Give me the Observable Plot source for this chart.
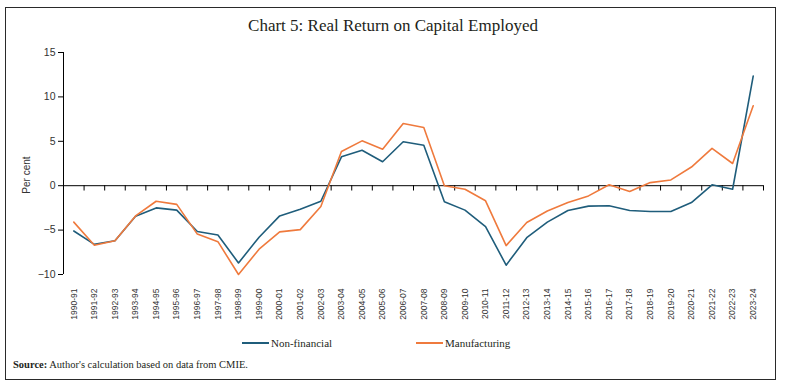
<!DOCTYPE html>
<html><head><meta charset="utf-8">
<script src="https://cdn.jsdelivr.net/npm/d3@7"></script>
<script src="https://cdn.jsdelivr.net/npm/@observablehq/plot@0.6"></script>
<style>
body{margin:0;background:#fff;}
#wrap{position:relative;width:786px;height:388px;overflow:hidden;font-family:"Liberation Serif",serif;color:#231f20;}
#frame{position:absolute;left:5px;top:7px;width:769px;height:371px;border:1.5px solid #2a2a2a;}
#title{position:absolute;left:0;width:786px;top:16px;text-align:center;font-size:17px;line-height:20px;}
#chart{position:absolute;left:0;top:0;}
#ylab{position:absolute;left:26px;top:175px;transform:translate(-50%,-50%) rotate(-90deg);font-family:"Liberation Sans",sans-serif;font-size:10px;white-space:nowrap;color:#333;}
.leg{position:absolute;top:336px;font-size:11px;line-height:14px;display:flex;align-items:center;white-space:nowrap;}
.sw{display:inline-block;width:27px;height:2px;margin-right:2px;}
#source{position:absolute;left:13px;top:358px;font-size:10.5px;line-height:14px;}
</style></head>
<body>
<div id="wrap">
  <div id="frame"></div>
  <div id="title">Chart 5: Real Return on Capital Employed</div>
  <div id="chart"></div>
  <div id="ylab">Per cent</div>
  <div id="legend"></div>
  <div id="source"><b>Source:</b> Author's calculation based on data from CMIE.</div>
</div>
<script>
const years = ["1990-91","1991-92","1992-93","1993-94","1994-95","1995-96","1996-97","1997-98","1998-99","1999-00","2000-01","2001-02","2002-03","2003-04","2004-05","2005-06","2006-07","2007-08","2008-09","2009-10","2010-11","2011-12","2012-13","2013-14","2014-15","2015-16","2016-17","2017-18","2018-19","2019-20","2020-21","2021-22","2022-23","2023-24"];
const nonFinancial = [-5.1,-6.6,-6.2,-3.45,-2.5,-2.75,-5.15,-5.55,-8.7,-5.8,-3.4,-2.65,-1.75,3.25,4.0,2.7,4.95,4.55,-1.8,-2.75,-4.6,-8.95,-5.85,-4.1,-2.8,-2.3,-2.25,-2.8,-2.9,-2.9,-1.9,0.1,-0.4,12.35];
const manufacturing = [-4.1,-6.7,-6.2,-3.4,-1.75,-2.1,-5.45,-6.3,-10.0,-7.15,-5.2,-4.95,-2.35,3.85,5.05,4.1,7.0,6.55,0.0,-0.4,-1.7,-6.75,-4.15,-2.85,-1.9,-1.15,0.1,-0.65,0.35,0.65,2.1,4.2,2.5,9.0];
const seriesNames = ["Non-financial","Manufacturing"];
const seriesColors = ["#1f5d7b","#ef7a3d"];
const yTicks = [-10,-5,0,5,10,15];

const rows = [];
seriesNames.forEach((s, k) => {
  const vals = k === 0 ? nonFinancial : manufacturing;
  years.forEach((yr, i) => rows.push({i, year: yr, series: s, value: vals[i]}));
});

const plot = Plot.plot({
  width: 786, height: 330,
  marginLeft: 63, marginRight: 23, marginTop: 52, marginBottom: 56,
  x: {domain: [0, years.length]},
  y: {domain: [-10, 15]},
  color: {domain: seriesNames, range: seriesColors},
  style: {fontFamily: "Liberation Sans, sans-serif", background: "transparent", color: "#333"},
  marks: [
    Plot.ruleX([0], {y1: -10, y2: 15, stroke: "#000", strokeWidth: 1}),
    Plot.axisY(yTicks, {tickSize: 5, tickPadding: 3, fontSize: 10.5, label: null, stroke: "#000"}),
    Plot.axisX(years.map((d, i) => i + 0.5), {anchor: "bottom", tickSize: 0, tickPadding: 14, tickRotate: -90, tickFormat: d => years[Math.floor(d)], fontSize: 8.5, label: null}),
    Plot.ruleY([0], {stroke: "#000", strokeWidth: 1}),
    Plot.ruleX(d3.range(1, years.length + 1), {y1: 0, y2: -0.6, stroke: "#000", strokeWidth: 1}),
    Plot.line(rows, {x: d => d.i + 0.5, y: "value", z: "series", stroke: "series", strokeWidth: 1.6})
  ]
});
document.getElementById("chart").appendChild(plot);

const legend = document.getElementById("legend");
const legLeft = [242, 416];
seriesNames.forEach((s, k) => {
  const el = document.createElement("div");
  el.className = "leg";
  el.style.left = legLeft[k] + "px";
  el.innerHTML = `<span class="sw" style="background:${seriesColors[k]}"></span><span>${s}</span>`;
  legend.appendChild(el);
});
</script>
</body></html>
